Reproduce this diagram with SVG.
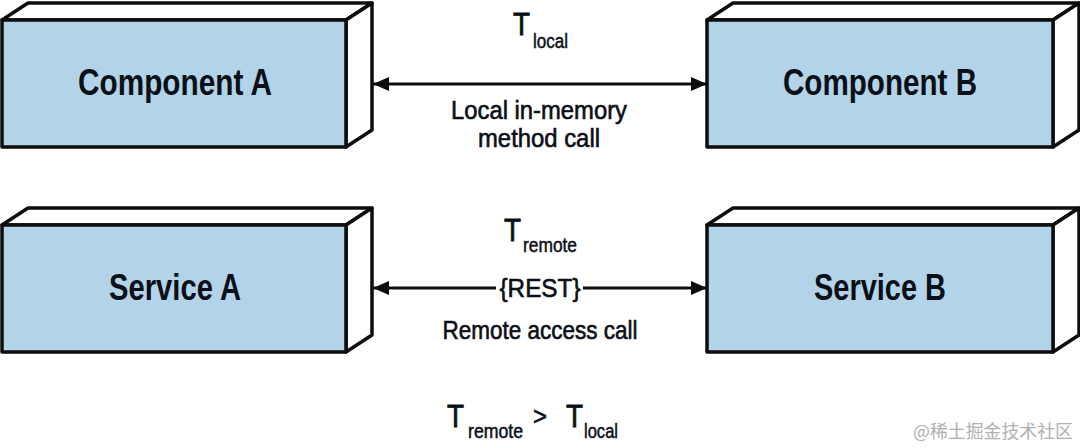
<svg xmlns="http://www.w3.org/2000/svg" width="1080" height="448" viewBox="0 0 1080 448">
<defs>
<style>
.front{fill:#b3d3e9;stroke:#0d0d0d;stroke-width:3.5;stroke-linejoin:round}
.side{fill:#ffffff;stroke:#0d0d0d;stroke-width:3.5;stroke-linejoin:round}
.name{font-family:"Liberation Sans",Arial,sans-serif;font-weight:bold;font-size:36px;fill:#0b0f17;text-anchor:middle}
.lbl{font-family:"Liberation Sans",Arial,sans-serif;font-size:25px;fill:#0b0f17;stroke:#0b0f17;stroke-width:0.6}
.big{font-family:"Liberation Sans",Arial,sans-serif;font-size:32px;fill:#0b0f17;stroke:#0b0f17;stroke-width:0.8}
.sub{font-family:"Liberation Sans",Arial,sans-serif;font-size:20px;fill:#0b0f17;stroke:#0b0f17;stroke-width:0.5}
.wm{font-family:"Noto Sans CJK SC","Liberation Sans",sans-serif;font-size:18px;fill:#b0b0b0}
.conn{stroke:#0d0d0d;stroke-width:3;fill:none}
</style>
<marker id="ah" viewBox="0 0 16 14" refX="16" refY="7" markerWidth="16" markerHeight="14" markerUnits="userSpaceOnUse" orient="auto-start-reverse">
<path d="M0,0 L16,7 L0,14 Z" fill="#0d0d0d"/>
</marker>
</defs>
<rect width="1080" height="448" fill="#ffffff"/>

<g id="componentA">
<path class="side" d="M2,20 L28,3 L372,3 L346,20 Z"/>
<path class="side" d="M346,20 L372,3 L372,130 L346,147 Z"/>
<rect class="front" x="2" y="20" width="344" height="127"/>
<text class="name" x="175" y="95" textLength="194" lengthAdjust="spacingAndGlyphs">Component A</text>
</g>

<g id="componentB">
<path class="side" d="M707,20 L733,3 L1079,3 L1053,20 Z"/>
<path class="side" d="M1053,20 L1079,3 L1079,130 L1053,147 Z"/>
<rect class="front" x="707" y="20" width="346" height="127"/>
<text class="name" x="880" y="95" textLength="194" lengthAdjust="spacingAndGlyphs">Component B</text>
</g>

<g id="serviceA">
<path class="side" d="M2,225 L28,208 L372,208 L346,225 Z"/>
<path class="side" d="M346,225 L372,208 L372,335 L346,352 Z"/>
<rect class="front" x="2" y="225" width="344" height="127"/>
<text class="name" x="175" y="300" textLength="132" lengthAdjust="spacingAndGlyphs">Service A</text>
</g>

<g id="serviceB">
<path class="side" d="M707,225 L733,208 L1079,208 L1053,225 Z"/>
<path class="side" d="M1053,225 L1079,208 L1079,335 L1053,352 Z"/>
<rect class="front" x="707" y="225" width="346" height="127"/>
<text class="name" x="880" y="300" textLength="132" lengthAdjust="spacingAndGlyphs">Service B</text>
</g>

<g id="connectors">
<line class="conn" x1="373" y1="84" x2="707" y2="84" marker-start="url(#ah)" marker-end="url(#ah)"/>
<line class="conn" x1="373" y1="288" x2="496" y2="288" marker-start="url(#ah)"/>
<line class="conn" x1="583" y1="288" x2="707" y2="288" marker-end="url(#ah)"/>
</g>

<g id="labels">
<text class="big" x="513" y="35" textLength="17" lengthAdjust="spacingAndGlyphs">T</text>
<text class="sub" x="533" y="48" textLength="35" lengthAdjust="spacingAndGlyphs">local</text>
<text class="lbl" x="539" y="119" text-anchor="middle" textLength="176" lengthAdjust="spacingAndGlyphs">Local in-memory</text>
<text class="lbl" x="539" y="147" text-anchor="middle" textLength="122" lengthAdjust="spacingAndGlyphs">method call</text>

<text class="big" x="504" y="241" textLength="17" lengthAdjust="spacingAndGlyphs">T</text>
<text class="sub" x="523" y="252" textLength="54" lengthAdjust="spacingAndGlyphs">remote</text>
<text class="lbl" x="540" y="297" text-anchor="middle" textLength="81" lengthAdjust="spacingAndGlyphs">{REST}</text>
<text class="lbl" x="540" y="339" text-anchor="middle" textLength="195" lengthAdjust="spacingAndGlyphs">Remote access call</text>

<text class="big" x="447" y="427" textLength="17" lengthAdjust="spacingAndGlyphs">T</text>
<text class="sub" x="468" y="438" textLength="55" lengthAdjust="spacingAndGlyphs">remote</text>
<text class="lbl" x="533" y="425" textLength="14" lengthAdjust="spacingAndGlyphs">&gt;</text>
<text class="big" x="566" y="427" textLength="17" lengthAdjust="spacingAndGlyphs">T</text>
<text class="sub" x="584" y="438" textLength="34" lengthAdjust="spacingAndGlyphs">local</text>

<text class="wm" x="913" y="438" textLength="160" lengthAdjust="spacingAndGlyphs">@稀土掘金技术社区</text>
</g>
</svg>
